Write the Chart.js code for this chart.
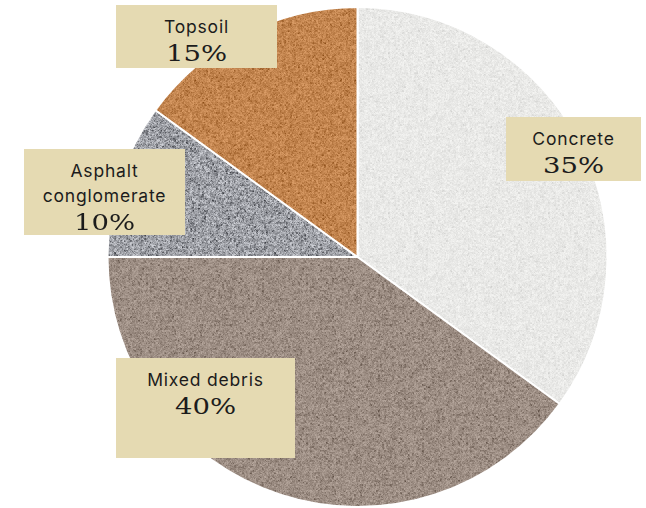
<!DOCTYPE html>
<html>
<head>
<meta charset="utf-8">
<script src="https://cdn.jsdelivr.net/npm/chart.js@4"></script>
<style>
  html, body { margin: 0; padding: 0; background: #fff; }
  #wrap { position: relative; width: 646px; height: 508px; overflow: hidden; }
  #chart { position: absolute; left: 0; top: 0; }
  .tag {
    position: absolute; box-sizing: border-box; background: #E5DAB2;
    text-align: center; padding-top: 9px; color: #1c1c1c;
  }
  .tag .name { font-family: 'Inter', 'Open Sans', sans-serif; font-size: 17.5px; line-height: 25px; letter-spacing: 0.8px; }
  .tag .pct { font-family: 'DejaVu Serif', serif; font-size: 22px; line-height: 29px; }
  .tag .pct span { display: inline-block; transform: scaleX(1.25); }
</style>
</head>
<body>
<div id="wrap">
  <canvas id="chart" width="646" height="508"></canvas>
</div>
<script>
const categories = ['Concrete', 'Mixed debris', 'Asphalt conglomerate', 'Topsoil'];
const nameLines = [['Concrete'], ['Mixed debris'], ['Asphalt', 'conglomerate'], ['Topsoil']];
const shares = [35, 40, 10, 15];

// stone textures: base colour plus speckle range
const textures = [
  { base: [234, 234, 232], spread: 26, dark: 0.04 },
  { base: [160, 145, 135], spread: 54, dark: 0.10 },
  { base: [168, 170, 176], spread: 95, dark: 0.18 },
  { base: [198, 136, 82], spread: 50, dark: 0.10 },
];

// callout boxes
const tagBoxes = [
  { left: 506, top: 117, width: 135, height: 64 },
  { left: 116, top: 358, width: 179, height: 100 },
  { left: 24, top: 149, width: 161, height: 86 },
  { left: 116, top: 5, width: 161, height: 63 },
];

function seeded(seed) {
  return function () {
    seed |= 0; seed = seed + 0x6D2B79F5 | 0;
    let t = Math.imul(seed ^ seed >>> 15, 1 | seed);
    t = t + Math.imul(t ^ t >>> 7, 61 | t) ^ t;
    return ((t ^ t >>> 14) >>> 0) / 4294967296;
  };
}

function noiseCanvas(size, tex, rnd, amount) {
  const c = document.createElement('canvas');
  c.width = size; c.height = size;
  const g = c.getContext('2d');
  const img = g.createImageData(size, size);
  for (let i = 0; i < size * size; i++) {
    let d = (rnd() - 0.5) * tex.spread * amount;
    if (rnd() < tex.dark) d -= tex.spread * 0.8 * amount;
    for (let k = 0; k < 3; k++) img.data[i * 4 + k] = Math.max(0, Math.min(255, tex.base[k] + d));
    img.data[i * 4 + 3] = 255;
  }
  g.putImageData(img, 0, 0);
  return c;
}

function makePattern(ctx, tex, seed) {
  const size = 160;
  const rnd = seeded(seed);
  const coarse = noiseCanvas(size / 2, tex, rnd, 1);
  const fine = noiseCanvas(size, tex, rnd, 0.9);
  const c = document.createElement('canvas');
  c.width = size; c.height = size;
  const g = c.getContext('2d');
  // 2px grain blocks with a finer layer mixed over them
  g.imageSmoothingEnabled = false;
  g.drawImage(coarse, 0, 0, size, size);
  g.globalAlpha = 0.55;
  g.drawImage(fine, 0, 0);
  return ctx.createPattern(c, 'repeat');
}

const canvas = document.getElementById('chart');
const ctx = canvas.getContext('2d');
const fills = textures.map((t, i) => makePattern(ctx, t, 17 + i * 101));

new Chart(canvas, {
  type: 'pie',
  data: {
    labels: categories,
    datasets: [{
      data: shares,
      backgroundColor: fills,
      borderColor: '#ffffff',
      borderWidth: 2,
      hoverOffset: 0,
    }]
  },
  options: {
    responsive: false,
    animation: false,
    layout: { padding: { left: 106, right: 37, top: 6, bottom: 0 } },
    plugins: { legend: { display: false }, tooltip: { enabled: false } },
  }
});

const wrap = document.getElementById('wrap');
categories.forEach((cat, i) => {
  const b = tagBoxes[i];
  const el = document.createElement('div');
  el.className = 'tag';
  Object.assign(el.style, { left: b.left + 'px', top: b.top + 'px', width: b.width + 'px', height: b.height + 'px' });
  el.innerHTML = nameLines[i].map(l => `<div class="name">${l}</div>`).join('') +
    `<div class="pct"><span>${shares[i]}%</span></div>`;
  wrap.appendChild(el);
});
</script>
</body>
</html>
